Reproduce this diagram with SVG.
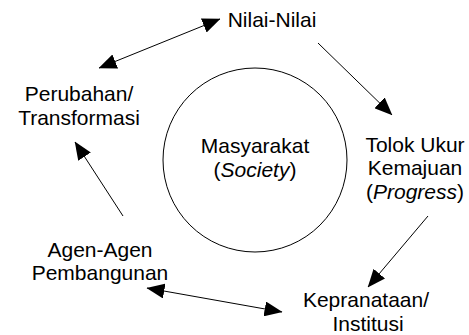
<svg xmlns="http://www.w3.org/2000/svg" width="469" height="335" viewBox="0 0 469 335">
<defs>
<style>
text{font-family:"Liberation Sans",Arial,sans-serif;font-size:21px;fill:#000;text-anchor:middle}
.c line{stroke:#000;stroke-width:1}
</style>
<marker id="ah" markerUnits="userSpaceOnUse" markerWidth="18" markerHeight="15" refX="17.5" refY="7.5" orient="auto-start-reverse" viewBox="0 0 18 15">
<path d="M0,0 L18,7.5 L0,15 Z" fill="#000"/>
</marker>
</defs>
<rect width="469" height="335" fill="#fff"/>
<g id="society">
<circle cx="255" cy="160" r="92" fill="none" stroke="#000" stroke-width="1"/>
<text x="255" y="153">Masyarakat</text>
<text x="255" y="177">(<tspan font-style="italic">Society</tspan>)</text>
</g>
<g id="nilai"><text x="272" y="27">Nilai-Nilai</text></g>
<g id="tolok">
<text x="415" y="152">Tolok Ukur</text>
<text x="415" y="175">Kemajuan</text>
<text x="415" y="199">(<tspan font-style="italic">Progress</tspan>)</text>
</g>
<g id="kepranataan">
<text x="366" y="307">Kepranataan/</text>
<text x="368" y="331">Institusi</text>
</g>
<g id="agen">
<text x="100" y="257">Agen-Agen</text>
<text x="100" y="280">Pembangunan</text>
</g>
<g id="perubahan">
<text x="79" y="101">Perubahan/</text>
<text x="79" y="125">Transformasi</text>
</g>
<g class="c" id="connectors">
<line x1="99" y1="68" x2="220" y2="19" marker-start="url(#ah)" marker-end="url(#ah)"/>
<line x1="318" y1="43" x2="392" y2="115" marker-end="url(#ah)"/>
<line x1="428" y1="216" x2="368" y2="287" marker-end="url(#ah)"/>
<line x1="282" y1="312" x2="147" y2="288" marker-start="url(#ah)" marker-end="url(#ah)"/>
<line x1="123" y1="216" x2="75" y2="142" marker-end="url(#ah)"/>
</g>
</svg>
